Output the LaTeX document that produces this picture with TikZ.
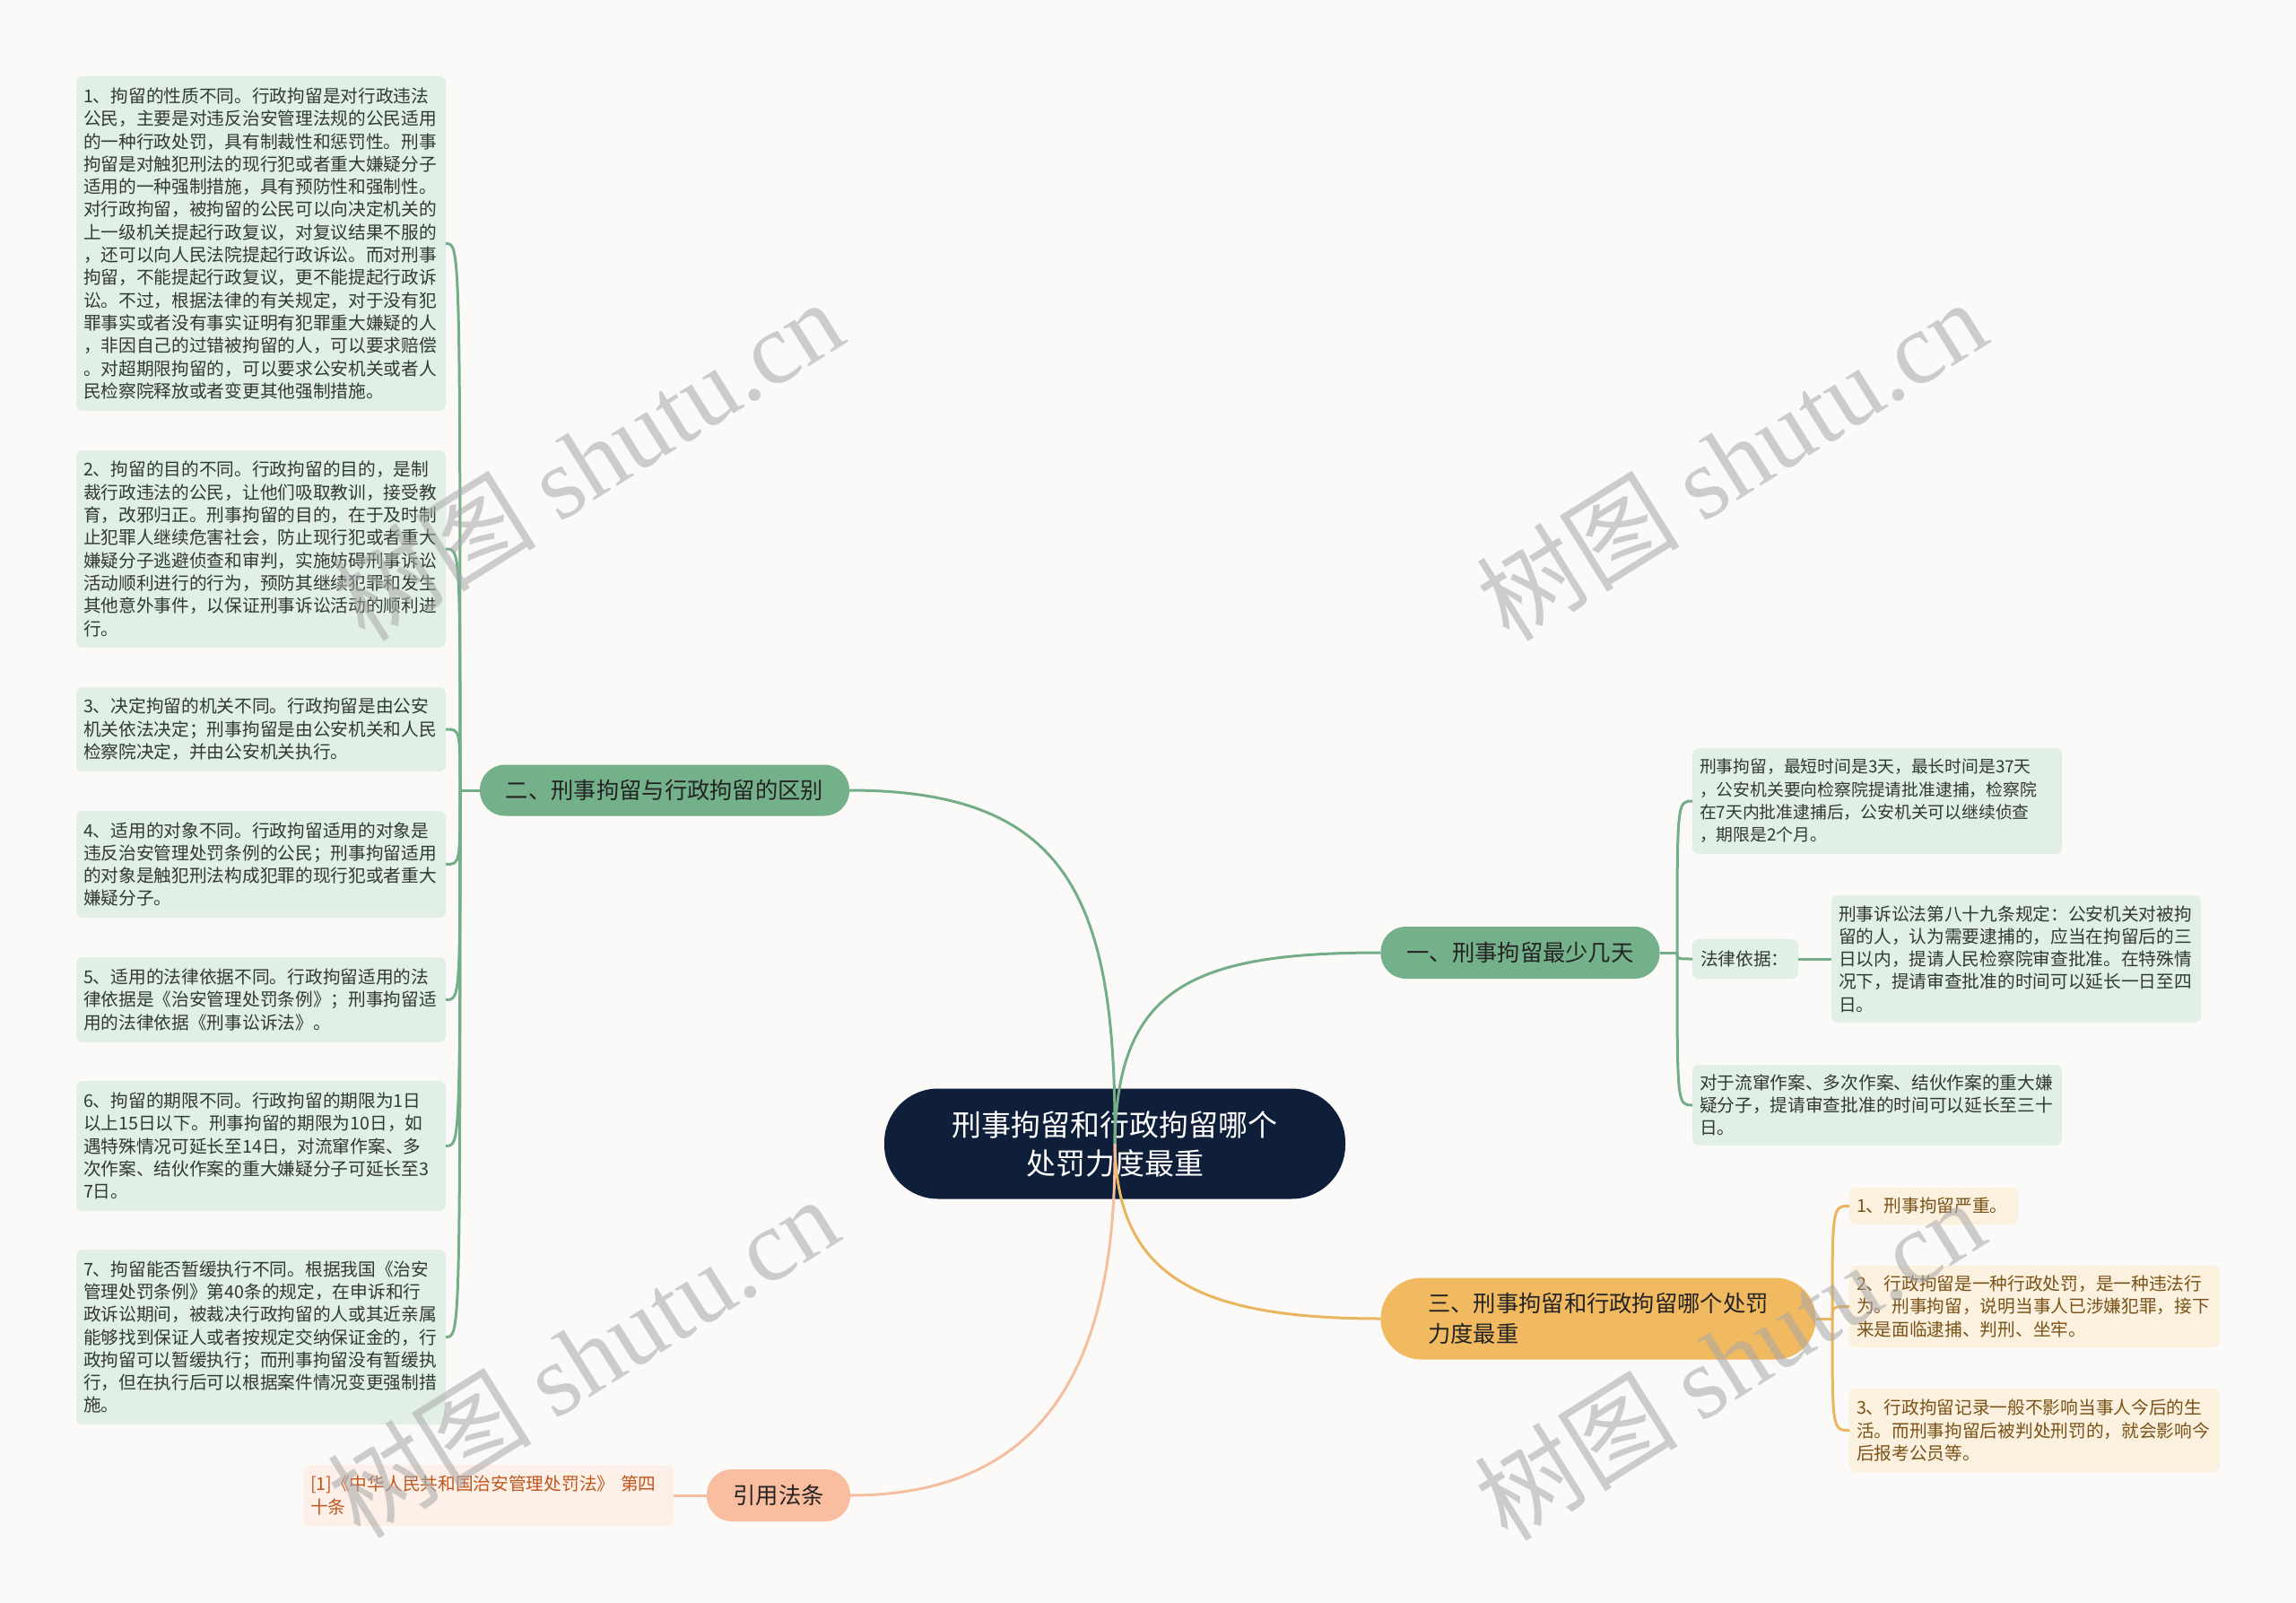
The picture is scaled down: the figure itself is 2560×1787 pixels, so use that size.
\documentclass[tikz,border=0pt]{standalone}
\usepackage{fontspec}
\setmainfont{Noto Sans CJK SC}
\newfontfamily\wmserif{Liberation Serif}
\definecolor{bgcol}{HTML}{FCFAF9}
\definecolor{navy}{HTML}{0F1F3A}
\definecolor{gbranch}{HTML}{74B08A}
\definecolor{gline}{HTML}{74AE88}
\definecolor{gleaffill}{HTML}{E2EFE6}
\definecolor{gleaftext}{HTML}{2F3A32}
\definecolor{obranch}{HTML}{F1B960}
\definecolor{oline}{HTML}{E9B55E}
\definecolor{oleaffill}{HTML}{FCF1DF}
\definecolor{oleaftext}{HTML}{7A5217}
\definecolor{pbranch}{HTML}{F9BD9F}
\definecolor{pline}{HTML}{F4BE9F}
\definecolor{pleaffill}{HTML}{FDF0E8}
\definecolor{pleaftext}{HTML}{C0561C}
\definecolor{branchtext}{HTML}{232323}
\definecolor{wmgray}{HTML}{A8A8A8}
\begin{document}
\begin{tikzpicture}[x=1pt,y=-1pt,
  every node/.style={inner sep=0pt, outer sep=0pt},
  leaf/.style={rounded corners=7pt, anchor=north west, align=left, inner xsep=8pt, inner ysep=0pt,
    font=\fontsize{19.7}{25.3}\selectfont, text width=396pt},
  gleaf/.style={leaf, fill=gleaffill, text=gleaftext},
  oleaf/.style={leaf, fill=oleaffill, text=oleaftext},
  pleaf/.style={leaf, fill=pleaffill, text=pleaftext},
  branch/.style={align=center, font=\fontsize{25.3}{34}\selectfont, text=branchtext},
  gconn/.style={draw=gline, line width=3pt},
  oconn/.style={draw=oline, line width=3pt},
  pconn/.style={draw=pline, line width=3pt},
  wmark/.style={rotate=32, text=wmgray, text opacity=0.55, font=\fontsize{114}{120}\selectfont}
]
\useasboundingbox (0,0) rectangle (2560,1787);
\fill[bgcol] (0,0) rectangle (2560,1787);

% central node
\node[fill=navy, rounded corners=60pt, minimum width=514pt, minimum height=123pt, text=white,
  align=center, font=\fontsize{33}{43}\selectfont] (ctr) at (1243,1275) {刑事拘留和行政拘留哪个\\处罚力度最重};

% branch nodes
\node[branch, fill=gbranch, rounded corners=28pt, minimum width=412pt, minimum height=57pt] (n2) at (741,881) {二、刑事拘留与行政拘留的区别};
\node[branch, fill=gbranch, rounded corners=28pt, minimum width=311pt, minimum height=58pt] (n1) at (1695,1062) {一、刑事拘留最少几天};
\node[branch, fill=obranch, rounded corners=45pt, minimum width=485pt, minimum height=91pt, align=left] (n3) at (1782,1470) {三、刑事拘留和行政拘留哪个处罚\\力度最重};
\node[branch, fill=pbranch, rounded corners=28pt, minimum width=160pt, minimum height=58pt] (n4) at (868,1667) {引用法条};

% connectors from the centre
\draw[gconn] (ctr.center) .. controls (1245,1000) and (1190,881) .. (n2.east);
\draw[gconn] (ctr.center) .. controls (1245,1100) and (1330,1062) .. (n1.west);
\draw[oconn] (ctr.center) .. controls (1245,1420) and (1330,1470) .. (n3.west);
\draw[pconn] (ctr.center) .. controls (1245,1500) and (1180,1667) .. (n4.east);

% left leaves (branch 2)
\node[gleaf, minimum height=373pt] (b1) at (85,85) {1、拘留的性质不同。行政拘留是对行政违法\\公民，主要是对违反治安管理法规的公民适用\\的一种行政处罚，具有制裁性和惩罚性。刑事\\拘留是对触犯刑法的现行犯或者重大嫌疑分子\\适用的一种强制措施，具有预防性和强制性。\\对行政拘留，被拘留的公民可以向决定机关的\\上一级机关提起行政复议，对复议结果不服的\\，还可以向人民法院提起行政诉讼。而对刑事\\拘留，不能提起行政复议，更不能提起行政诉\\讼。不过，根据法律的有关规定，对于没有犯\\罪事实或者没有事实证明有犯罪重大嫌疑的人\\，非因自己的过错被拘留的人，可以要求赔偿\\。对超期限拘留的，可以要求公安机关或者人\\民检察院释放或者变更其他强制措施。};
\node[gleaf, minimum height=220pt] (b2) at (85,502) {2、拘留的目的不同。行政拘留的目的，是制\\裁行政违法的公民，让他们吸取教训，接受教\\育，改邪归正。刑事拘留的目的，在于及时制\\止犯罪人继续危害社会，防止现行犯或者重大\\嫌疑分子逃避侦查和审判，实施妨碍刑事诉讼\\活动顺利进行的行为，预防其继续犯罪和发生\\其他意外事件，以保证刑事诉讼活动的顺利进\\行。};
\node[gleaf, minimum height=94pt] (b3) at (85,766) {3、决定拘留的机关不同。行政拘留是由公安\\机关依法决定；刑事拘留是由公安机关和人民\\检察院决定，并由公安机关执行。};
\node[gleaf, minimum height=119pt] (b4) at (85,904) {4、适用的对象不同。行政拘留适用的对象是\\违反治安管理处罚条例的公民；刑事拘留适用\\的对象是触犯刑法构成犯罪的现行犯或者重大\\嫌疑分子。};
\node[gleaf, minimum height=95pt] (b5) at (85,1067) {5、适用的法律依据不同。行政拘留适用的法\\律依据是《治安管理处罚条例》；刑事拘留适\\用的法律依据《刑事讼诉法》。};
\node[gleaf, minimum height=145pt] (b6) at (85,1205) {6、拘留的期限不同。行政拘留的期限为1日\\以上15日以下。刑事拘留的期限为10日，如\\遇特殊情况可延长至14日，对流窜作案、多\\次作案、结伙作案的重大嫌疑分子可延长至3\\7日。};
\node[gleaf, minimum height=195pt] (b7) at (85,1393) {7、拘留能否暂缓执行不同。根据我国《治安\\管理处罚条例》第40条的规定，在申诉和行\\政诉讼期间，被裁决行政拘留的人或其近亲属\\能够找到保证人或者按规定交纳保证金的，行\\政拘留可以暂缓执行；而刑事拘留没有暂缓执\\行，但在执行后可以根据案件情况变更强制措\\施。};

\coordinate (h2) at (513,881);
\draw[gconn] (n2.west) -- (h2);
\foreach \b in {b1,b2,b3,b4,b5,b6,b7}
  \draw[gconn] (h2) .. controls (h2 |- \b.east) .. (\b.east);

% right leaves (branch 1)
\node[gleaf, minimum height=118pt, font=\fontsize{18.8}{25.3}\selectfont] (bA) at (1887,834) {刑事拘留，最短时间是3天，最长时间是37天\\，公安机关要向检察院提请批准逮捕，检察院\\在7天内批准逮捕后，公安机关可以继续侦查\\，期限是2个月。};
\node[gleaf, minimum height=44pt, text width=100pt, inner xsep=9pt] (bL) at (1887,1047) {法律依据：};
\node[gleaf, minimum height=142pt] (bB) at (2042,998) {刑事诉讼法第八十九条规定：公安机关对被拘\\留的人，认为需要逮捕的，应当在拘留后的三\\日以内，提请人民检察院审查批准。在特殊情\\况下，提请审查批准的时间可以延长一日至四\\日。};
\node[gleaf, minimum height=90pt] (bC) at (1887,1187) {对于流窜作案、多次作案、结伙作案的重大嫌\\疑分子，提请审查批准的时间可以延长至三十\\日。};

\coordinate (h1) at (1870,1062);
\draw[gconn] (n1.east) -- (h1);
\foreach \b in {bA,bL,bC}
  \draw[gconn] (h1) .. controls (h1 |- \b.west) .. (\b.west);
\draw[gconn] (bL.east) -- (bB.west);

% orange leaves (branch 3)
\node[oleaf, minimum height=41pt, text width=172pt] (o1) at (2062,1324) {1、刑事拘留严重。};
\node[oleaf, minimum height=91pt, text width=397pt] (o2) at (2062,1411) {2、行政拘留是一种行政处罚，是一种违法行\\为。刑事拘留，说明当事人已涉嫌犯罪，接下\\来是面临逮捕、判刑、坐牢。};
\node[oleaf, minimum height=93pt, text width=397pt] (o3) at (2062,1548) {3、行政拘留记录一般不影响当事人今后的生\\活。而刑事拘留后被判处刑罚的，就会影响今\\后报考公员等。};

\coordinate (h3) at (2043,1470);
\draw[oconn] (n3.east) -- (h3);
\foreach \b in {o1,o2,o3}
  \draw[oconn] (h3) .. controls (h3 |- \b.west) .. (\b.west);

% peach leaf (branch 4)
\node[pleaf, minimum height=68pt, text width=397pt] (p1) at (338,1633) {[1]《中华人民共和国治安管理处罚法》 第四\\十条};
\draw[pconn] (n4.west) -- (p1.east);

% watermarks
\node[wmark] (wm1) at (655,512) {树图 {\wmserif shutu.cn}};
\node[wmark] (wm2) at (1930,512) {树图 {\wmserif shutu.cn}};
\node[wmark] (wm3) at (650,1512) {树图 {\wmserif shutu.cn}};
\node[wmark] (wm4) at (1928,1515) {树图 {\wmserif shutu.cn}};
\end{tikzpicture}
\end{document}
